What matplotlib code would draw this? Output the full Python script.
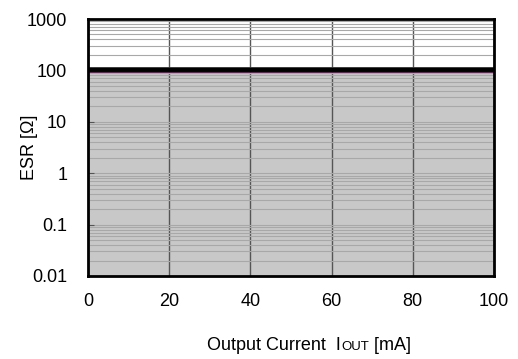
import matplotlib
matplotlib.use('Agg')
import matplotlib.pyplot as plt
from matplotlib.offsetbox import TextArea, HPacker, AnnotationBbox

plt.rcParams['font.family'] = ['Liberation Sans', 'DejaVu Sans']

# data
x_range = [0, 100]
esr_upper = [100, 100]     # stable region upper bound (ohm)
esr_lower = 0.01
x_ticks = [0, 20, 40, 60, 80, 100]
y_ticks = [0.01, 0.1, 1, 10, 100, 1000]
y_tick_labels = ['0.01', '0.1', '1', '10', '100', '1000']

fig = plt.figure(figsize=(5.18, 3.59), dpi=100)
ax = fig.add_axes([88/518, 1 - 276/359, (494-88)/518, (276-19)/359])

ax.set_yscale('log')
ax.set_xlim(0, 100)
ax.set_ylim(0.01, 1000)

# stable region
ax.fill_between(x_range, esr_lower, esr_upper, color='#c8c8c8', zorder=0, lw=0)

# grid
ax.yaxis.grid(True, which='minor', color='#a8a8a8', lw=0.8, zorder=1)
ax.yaxis.grid(True, which='major', color='#a8a8a8', lw=0.8, zorder=1)
ax.xaxis.grid(True, which='major', color='#555555', lw=1.0, zorder=1)

ax.plot(x_range, esr_upper, color='#6a2a5a', lw=4.2, zorder=3, solid_capstyle='butt', clip_on=False)
ax.plot(x_range, esr_upper, color='black', lw=3.2, zorder=4, solid_capstyle='butt', clip_on=False)

ax.set_xticks(x_ticks)
ax.set_xticklabels([str(v) for v in x_ticks])
ax.set_yticks(y_ticks)
ax.set_yticklabels(y_tick_labels)
ax.tick_params(axis='x', length=0, pad=12, labelsize=13)
ax.tick_params(axis='y', which='major', direction='in', length=4, width=0.8,
               color='#555555', pad=15, labelsize=13)
ax.tick_params(axis='y', which='minor', length=0)

for s in ax.spines.values():
    s.set_linewidth(2)
    s.set_color('black')
    s.set_zorder(5)

ax.set_ylabel('ESR [Ω]', fontsize=13)
ax.yaxis.set_label_coords(-(88 - 38) / 406, 0.5)

# x label with small caps "OUT"
parts = [TextArea('Output Current  I', textprops=dict(size=13)),
         TextArea('OUT', textprops=dict(size=9.5)),
         TextArea(' [mA]', textprops=dict(size=13))]
box = HPacker(children=parts, align='baseline', pad=0, sep=0)
ab = AnnotationBbox(box, (309/518, 1 - 345/359), xycoords='figure fraction',
                    frameon=False, box_alignment=(0.5, 0.5))
fig.add_artist(ab)

fig.savefig('out.png', dpi=100)
